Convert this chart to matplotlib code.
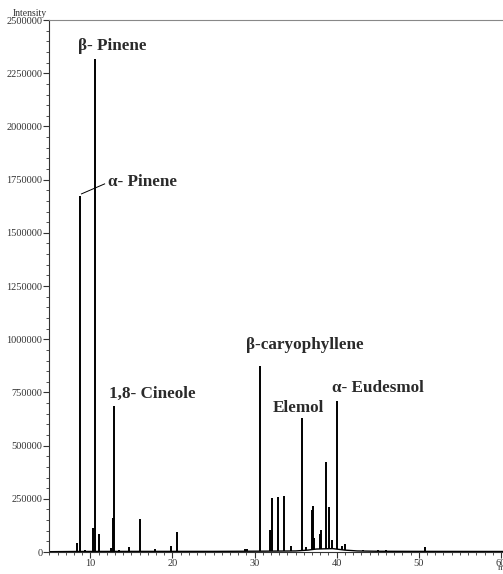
import numpy as np
import matplotlib
matplotlib.use('Agg')
from matplotlib import pyplot as plt
from matplotlib.ticker import MultipleLocator, StrMethodFormatter

# peak retention times (min) and heights (intensity)
rt = [8.43, 8.72, 9.35, 10.3, 10.6, 11.0, 12.5, 12.8, 12.88, 13.5, 14.0, 14.7,
      16.1, 17.9, 18.8, 19.8, 20.55, 26.6, 28.8, 29.1, 29.8, 30.6, 31.83, 32.1,
      32.9, 33.56, 34.45, 35.8, 36.3, 36.95, 37.07, 37.2, 37.95, 38.1, 38.65,
      39.1, 39.4, 39.98, 40.6, 41.0, 43.2, 45.0, 46.0, 50.75, 55.1, 57.9]
height = [44000, 1672000, 11000, 113000, 2318000, 84000, 19000, 160000, 686000,
          8000, 6000, 22000, 155000, 12000, 6000, 30000, 95000, 7000, 15000,
          15000, 7000, 875000, 105000, 255000, 260000, 265000, 30000, 630000,
          25000, 199000, 218000, 65000, 84000, 103000, 424000, 212000, 58000,
          710000, 30000, 40000, 8000, 8000, 10000, 25000, 5000, 4000]

# baseline drift
base_t = [5, 8, 15, 25, 31, 35, 36.5, 37.5, 39.5, 41, 42.5, 45, 50, 61]
base_y = [1500, 2500, 3000, 3000, 4000, 5000, 9000, 14000, 16000, 9000, 5000, 3500, 3000, 2500]

# compound labels
names = ['\u03b2- Pinene', '\u03b1- Pinene', '1,8- Cineole', '\u03b2-caryophyllene', 'Elemol', '\u03b1- Eudesmol']
name_t = [8.47, 12.1, 12.26, 29.0, 32.24, 39.38]
name_y = [2378000, 1737000, 744000, 971000, 677000, 771000]

plt.rcParams['font.family'] = ['Liberation Serif', 'DejaVu Serif']

fig = plt.figure(figsize=(5.03, 5.74), dpi=100)
ax = fig.add_axes([0.098, 0.0383, 0.902, 0.9268])

ax.plot(base_t, base_y, color='black', lw=1.0)
ax.vlines(rt, np.interp(rt, base_t, base_y), height, color='black', lw=1.4)

for s, t, y in zip(names, name_t, name_y):
    ax.text(t, y, s, fontsize=12.3, fontweight='bold', va='center', ha='left', color='#2a2a2a')
ax.plot([8.92, 11.74], [1683000, 1730000], color='black', lw=0.7)

ax.set_xlim(5, 60.25)
ax.set_ylim(0, 2500000)
ax.xaxis.set_major_locator(MultipleLocator(10))
ax.xaxis.set_minor_locator(MultipleLocator(1))
ax.yaxis.set_major_locator(MultipleLocator(250000))
ax.yaxis.set_minor_locator(MultipleLocator(50000))
ax.yaxis.set_major_formatter(StrMethodFormatter('{x:.0f}'))
ax.tick_params(which='major', length=4, width=0.8, labelsize=7.5, colors='#333333', pad=1)
ax.tick_params(which='minor', length=2, width=0.6, colors='#333333')
ax.spines['right'].set_visible(False)
ax.spines['top'].set_color('#888888')
ax.spines['left'].set_color('#333333')
ax.spines['bottom'].set_color('#333333')

fig.text(0.06, 0.977, 'Intensity', fontsize=7, ha='center', va='center', color='#333333')
fig.text(0.99, 0.003, 'min', fontsize=6.5, ha='left', va='bottom', color='#333333')

fig.savefig('out.png', dpi=100)
